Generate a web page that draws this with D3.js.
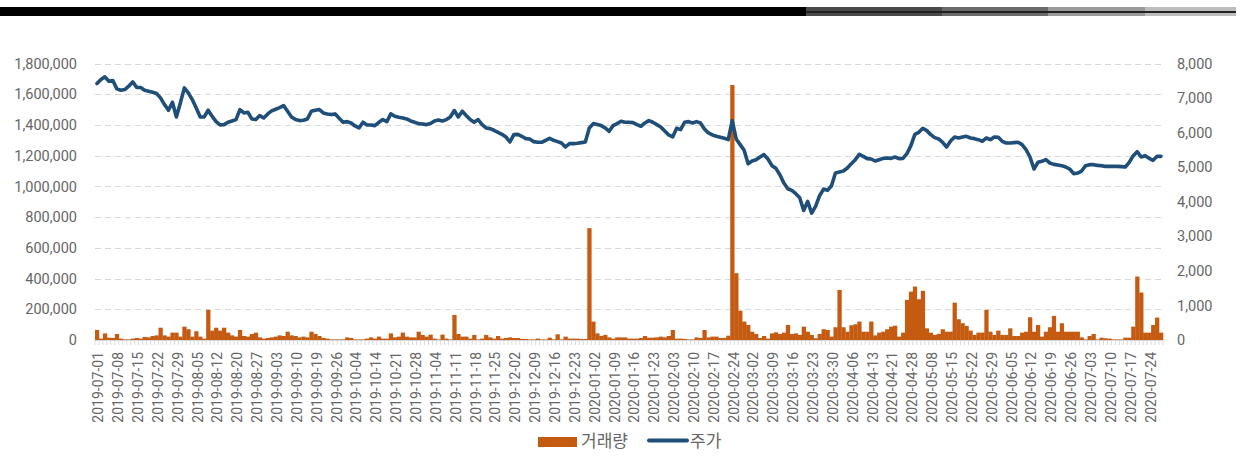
<!DOCTYPE html>
<html>
<head>
<meta charset="utf-8">
<script src="https://cdn.jsdelivr.net/npm/d3@7"></script>
<style>
  body { margin: 0; background: #fff; }
  svg { display: block; font-family: Roboto, "Liberation Sans", "Noto Sans CJK KR", sans-serif; }
</style>
</head>
<body>
<svg id="chart" width="1244" height="461"></svg>
<script>
// Trading calendar (KRX): weekdays between the two dates, minus market holidays
const firstDay = "2019-07-01";
const lastDay = "2020-07-29";
const holidays = [
  "2019-08-15", "2019-09-12", "2019-09-13", "2019-10-03", "2019-10-09",
  "2019-12-25", "2019-12-31", "2020-01-01", "2020-01-24", "2020-01-27",
  "2020-04-15", "2020-04-30", "2020-05-01", "2020-05-05"
];

// Labelled dates on the category axis
const tickDates = [
  "2019-07-01", "2019-07-08", "2019-07-15", "2019-07-22", "2019-07-29", "2019-08-05",
  "2019-08-12", "2019-08-20", "2019-08-27", "2019-09-03", "2019-09-10", "2019-09-19",
  "2019-09-26", "2019-10-04", "2019-10-14", "2019-10-21", "2019-10-28", "2019-11-04",
  "2019-11-11", "2019-11-18", "2019-11-25", "2019-12-02", "2019-12-09", "2019-12-16",
  "2019-12-23", "2020-01-02", "2020-01-09", "2020-01-16", "2020-01-23", "2020-02-03",
  "2020-02-10", "2020-02-17", "2020-02-24", "2020-03-02", "2020-03-09", "2020-03-16",
  "2020-03-23", "2020-03-30", "2020-04-06", "2020-04-13", "2020-04-21", "2020-04-28",
  "2020-05-08", "2020-05-15", "2020-05-22", "2020-05-29", "2020-06-05", "2020-06-12",
  "2020-06-19", "2020-06-26", "2020-07-03", "2020-07-10", "2020-07-17", "2020-07-24"
];

// Daily trading volume (거래량), shares
const volume = [
  65000, 9000, 43000, 15000, 13000, 39000, 9000, 4000, 4000, 9000,
  13000, 9000, 20000, 17000, 26000, 30000, 80000, 30000, 22000, 48000,
  48000, 22000, 87000, 70000, 22000, 57000, 22000, 9000, 196000, 61000,
  80000, 61000, 80000, 48000, 30000, 22000, 65000, 26000, 22000, 39000,
  48000, 17000, 9000, 13000, 17000, 22000, 30000, 26000, 54000, 30000,
  26000, 17000, 22000, 17000, 54000, 39000, 26000, 13000, 9000, 4000,
  4000, 4000, 4000, 17000, 13000, 4000, 4000, 4000, 9000, 17000,
  9000, 22000, 9000, 9000, 43000, 17000, 22000, 48000, 22000, 17000,
  17000, 54000, 33000, 22000, 35000, 9000, 4000, 35000, 9000, 4000,
  163000, 39000, 22000, 22000, 9000, 33000, 4000, 9000, 33000, 17000,
  9000, 26000, 9000, 13000, 17000, 13000, 13000, 7000, 7000, 4000,
  4000, 9000, 4000, 4000, 15000, 4000, 37000, 4000, 22000, 9000,
  9000, 9000, 7000, 7000, 728000, 120000, 43000, 26000, 33000, 17000,
  9000, 17000, 17000, 17000, 9000, 9000, 9000, 13000, 26000, 15000,
  15000, 17000, 22000, 17000, 26000, 65000, 9000, 9000, 7000, 4000,
  4000, 17000, 13000, 65000, 17000, 22000, 22000, 13000, 13000, 28000,
  1660000, 435000, 191000, 120000, 98000, 54000, 39000, 13000, 26000, 9000,
  43000, 50000, 39000, 48000, 98000, 39000, 43000, 33000, 87000, 54000,
  33000, 11000, 39000, 70000, 65000, 22000, 83000, 326000, 83000, 54000,
  96000, 102000, 120000, 54000, 54000, 120000, 30000, 48000, 54000, 70000,
  87000, 93000, 22000, 48000, 261000, 315000, 348000, 265000, 320000, 76000,
  48000, 33000, 40000, 70000, 54000, 54000, 243000, 135000, 109000, 91000,
  61000, 33000, 48000, 48000, 196000, 54000, 33000, 61000, 33000, 33000,
  76000, 26000, 26000, 48000, 54000, 148000, 54000, 98000, 22000, 54000,
  83000, 157000, 54000, 109000, 54000, 54000, 54000, 54000, 17000, 4000,
  26000, 39000, 4000, 15000, 11000, 9000, 4000, 4000, 4000, 15000,
  15000, 87000, 413000, 309000, 48000, 48000, 98000, 146000, 48000
];

// Daily closing price (주가), KRW
const price = [
  7420, 7536, 7614, 7488, 7507, 7266, 7227, 7247, 7343, 7469,
  7305, 7305, 7227, 7198, 7169, 7131, 7005, 6812, 6647, 6879,
  6454, 6860, 7295, 7150, 6957, 6715, 6454, 6454, 6647, 6474,
  6319, 6222, 6232, 6300, 6338, 6377, 6667, 6570, 6589, 6396,
  6377, 6493, 6425, 6541, 6628, 6676, 6725, 6783, 6618, 6454,
  6377, 6348, 6358, 6396, 6618, 6647, 6667, 6570, 6541, 6522,
  6541, 6416, 6300, 6319, 6280, 6193, 6135, 6300, 6222, 6222,
  6203, 6300, 6377, 6319, 6541, 6474, 6445, 6425, 6396, 6338,
  6300, 6261, 6251, 6232, 6261, 6338, 6367, 6338, 6377, 6454,
  6638, 6454, 6618, 6493, 6377, 6300, 6377, 6232, 6135, 6116,
  6068, 6010, 5952, 5874, 5729, 5942, 5950, 5894, 5826, 5816,
  5739, 5720, 5720, 5778, 5836, 5778, 5739, 5700, 5585, 5681,
  5681, 5691, 5710, 5729, 6135, 6261, 6232, 6203, 6135, 6039,
  6203, 6261, 6329, 6300, 6300, 6290, 6232, 6184, 6280, 6348,
  6300, 6232, 6164, 6048, 5932, 5874, 6126, 6087, 6300, 6319,
  6280, 6319, 6280, 6106, 5990, 5932, 5894, 5865, 5836, 5797,
  6348, 5816, 5652, 5488, 5102, 5179, 5217, 5295, 5362, 5237,
  5044, 4966, 4783, 4541, 4377, 4329, 4232, 4116, 3749, 4010,
  3671, 3865, 4174, 4367, 4329, 4464, 4831, 4860, 4889, 4976,
  5102, 5217, 5372, 5314, 5247, 5237, 5179, 5217, 5256, 5266,
  5256, 5295, 5247, 5256, 5391, 5623, 5952, 6010, 6126, 6058,
  5942, 5855, 5816, 5720, 5585, 5758, 5874, 5845, 5874, 5894,
  5845, 5826, 5797, 5749, 5845, 5797, 5874, 5865, 5749, 5700,
  5700, 5710, 5720, 5652, 5507, 5295, 4947, 5140, 5169, 5217,
  5121, 5082, 5063, 5044, 5005, 4947, 4812, 4831, 4889, 5044,
  5073, 5073, 5053, 5044, 5024, 5024, 5024, 5024, 5015, 5005,
  5140, 5333, 5449, 5295, 5333, 5256, 5198, 5314, 5314
];

const volumeTicks = [0, 200000, 400000, 600000, 800000, 1000000, 1200000, 1400000, 1600000, 1800000];
const priceTicks = [0, 1000, 2000, 3000, 4000, 5000, 6000, 7000, 8000];

const seriesNames = ["거래량", "주가"];
const barColor = "#C55A11";
const lineColor = "#1F4E79";
const textColor = "#666666";

// Build the list of trading days
const fmt = d3.utcFormat("%Y-%m-%d");
const holidaySet = new Set(holidays);
const dates = d3.utcDay.range(new Date(firstDay + "T00:00:00Z"), d3.utcDay.offset(new Date(lastDay + "T00:00:00Z"), 1))
  .filter(d => d.getUTCDay() !== 0 && d.getUTCDay() !== 6)
  .map(fmt)
  .filter(s => !holidaySet.has(s));

const rows = dates.map((d, i) => ({ date: d, volume: volume[i], price: price[i] }));

const svg = d3.select("#chart");

// Page header strip
const header = svg.append("g");
header.append("rect").attr("x", 0).attr("y", 7).attr("width", 806).attr("height", 9).attr("fill", "#000");
const strips = [
  { x0: 806, x1: 942, c: "#4a4a4a" },
  { x0: 942, x1: 1048, c: "#6a6a6a" },
  { x0: 1048, x1: 1145, c: "#9a9a9a" },
  { x0: 1145, x1: 1236, c: "#bdbdbd" }
];
strips.forEach(s => {
  header.append("rect").attr("x", s.x0).attr("y", 7).attr("width", s.x1 - s.x0).attr("height", 9).attr("fill", s.c);
});
header.append("rect").attr("x", 806).attr("y", 11).attr("width", 430).attr("height", 2).attr("fill", "#222");

const plot = { left: 95, right: 1163, top: 63.5, bottom: 340 };

const x = d3.scaleBand().domain(dates).range([plot.left, plot.right]).paddingInner(0).paddingOuter(0);
const yL = d3.scaleLinear().domain([0, 1800000]).range([plot.bottom, plot.top]);
const yR = d3.scaleLinear().domain([0, 8000]).range([plot.bottom, plot.top]);

// Horizontal gridlines (left axis)
svg.append("g")
  .selectAll("line")
  .data(volumeTicks.filter(v => v > 0))
  .join("line")
  .attr("x1", plot.left).attr("x2", plot.right)
  .attr("y1", d => Math.round(yL(d)) + 0.5).attr("y2", d => Math.round(yL(d)) + 0.5)
  .attr("stroke", "#d9d9d9").attr("stroke-width", 1).attr("stroke-dasharray", "6,4");

// Volume bars
svg.append("g")
  .selectAll("rect")
  .data(rows)
  .join("rect")
  .attr("x", d => x(d.date))
  .attr("width", x.bandwidth() + 0.3)
  .attr("y", d => yL(d.volume))
  .attr("height", d => yL(0) - yL(d.volume))
  .attr("fill", barColor);

// Category axis with a tick at every trading day
const xAxisG = svg.append("g");
xAxisG.append("line")
  .attr("x1", plot.left).attr("x2", plot.right)
  .attr("y1", plot.bottom + 0.5).attr("y2", plot.bottom + 0.5)
  .attr("stroke", "#d9d9d9");
xAxisG.selectAll("line.tick")
  .data(dates.concat([null]))
  .join("line")
  .attr("class", "tick")
  .attr("x1", (d, i) => plot.left + i * x.step())
  .attr("x2", (d, i) => plot.left + i * x.step())
  .attr("y1", plot.bottom).attr("y2", plot.bottom + 5)
  .attr("stroke", "#d0d0d0").attr("stroke-width", 0.8);
xAxisG.selectAll("text")
  .data(tickDates)
  .join("text")
  .attr("transform", d => `translate(${x(d) + x.bandwidth() / 2 + 1.5},352) rotate(-90)`)
  .attr("text-anchor", "end")
  .attr("dy", "0.35em")
  .attr("font-size", 14)
  .attr("fill", textColor)
  .text(d => d);

// Price line
const line = d3.line()
  .x(d => x(d.date) + x.bandwidth() / 2)
  .y(d => yR(d.price))
  .curve(d3.curveLinear);
svg.append("path")
  .datum(rows)
  .attr("d", line)
  .attr("fill", "none")
  .attr("stroke", lineColor)
  .attr("stroke-width", 3.6)
  .attr("stroke-linejoin", "round")
  .attr("stroke-linecap", "round");

// Left axis (volume)
const leftAxis = svg.append("g")
  .attr("transform", `translate(${plot.left},0)`)
  .call(d3.axisLeft(yL).tickValues(volumeTicks).tickFormat(d3.format(",")).tickSize(0).tickPadding(18));
leftAxis.select(".domain").remove();
leftAxis.selectAll("text").attr("font-size", 14.5).attr("fill", textColor).attr("font-family", "Roboto, sans-serif");

// Right axis (price)
const rightAxis = svg.append("g")
  .attr("transform", `translate(${plot.right},0)`)
  .call(d3.axisRight(yR).tickValues(priceTicks).tickFormat(d3.format(",")).tickSize(0).tickPadding(14));
rightAxis.select(".domain").remove();
rightAxis.selectAll("text").attr("font-size", 14.5).attr("fill", textColor).attr("font-family", "Roboto, sans-serif");

// Legend
const legend = svg.append("g").attr("font-family", "'Noto Sans CJK KR', sans-serif");
legend.append("rect").attr("x", 538).attr("y", 437).attr("width", 39).attr("height", 10).attr("fill", barColor);
legend.append("text").attr("x", 581).attr("y", 447).attr("font-size", 17).attr("fill", textColor).text(seriesNames[0]);
legend.append("line").attr("x1", 649).attr("x2", 687).attr("y1", 440.5).attr("y2", 440.5)
  .attr("stroke", lineColor).attr("stroke-width", 4).attr("stroke-linecap", "round");
legend.append("text").attr("x", 690).attr("y", 447).attr("font-size", 17).attr("fill", textColor).text(seriesNames[1]);
</script>
</body>
</html>
